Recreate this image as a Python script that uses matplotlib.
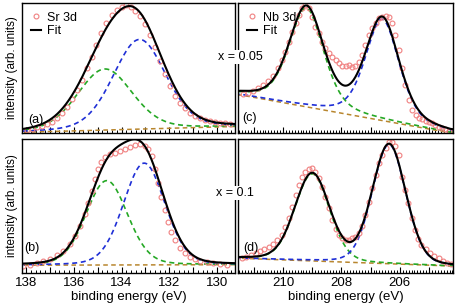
import numpy as np
import matplotlib.pyplot as plt
from matplotlib.ticker import MultipleLocator, FuncFormatter

plt.rcParams['font.family'] = ['Liberation Sans', 'DejaVu Sans']
plt.rcParams['font.size'] = 9

# ---- Sr 3d, x = 0.05 (panel a) ----
a_be = [137.97, 137.77, 137.56, 137.35, 137.14, 136.93, 136.72, 136.51, 136.30, 136.09,
        135.88, 135.67, 135.46, 135.25, 135.05, 134.84, 134.63, 134.42, 134.21, 134.00,
        133.82, 133.62, 133.43, 133.23, 133.02, 132.81, 132.60, 132.40, 132.19, 131.98,
        131.77, 131.56, 131.35, 131.14, 130.93, 130.72, 130.51, 130.30, 130.09, 129.88,
        129.68, 129.47]
a_int = [0.023, 0.033, 0.044, 0.054, 0.069, 0.087, 0.113, 0.151, 0.203, 0.264,
         0.331, 0.408, 0.497, 0.587, 0.677, 0.767, 0.844, 0.908, 0.946, 0.972,
         0.985, 0.972, 0.941, 0.900, 0.838, 0.754, 0.659, 0.556, 0.454, 0.362,
         0.287, 0.233, 0.190, 0.156, 0.131, 0.113, 0.100, 0.090, 0.085, 0.080,
         0.074, 0.069]

# ---- Sr 3d, x = 0.1 (panel b) ----
b_be = [138.11, 137.83, 137.56, 137.28, 137.00, 136.72, 136.44, 136.16, 135.95, 135.74,
        135.53, 135.39, 135.25, 135.11, 134.98, 134.84, 134.70, 134.49, 134.28, 134.07,
        133.86, 133.65, 133.44, 133.23, 133.02, 132.88, 132.74, 132.60, 132.47, 132.33,
        132.19, 132.05, 131.91, 131.77, 131.56, 131.35, 131.14, 130.93, 130.72, 130.44,
        130.16, 129.88, 129.60]
b_int = [0.052, 0.062, 0.075, 0.090, 0.107, 0.132, 0.167, 0.217, 0.276, 0.351,
         0.440, 0.525, 0.615, 0.699, 0.774, 0.828, 0.863, 0.888, 0.898, 0.908,
         0.923, 0.938, 0.953, 0.960, 0.948, 0.923, 0.873, 0.774, 0.669, 0.570,
         0.470, 0.383, 0.309, 0.246, 0.184, 0.147, 0.122, 0.105, 0.092, 0.080,
         0.072, 0.065, 0.060]

# ---- Nb 3d, x = 0.05 (panel c) ----
c_be = [211.37, 211.20, 211.02, 210.85, 210.68, 210.51, 210.34, 210.17, 210.03, 209.92,
        209.80, 209.69, 209.57, 209.46, 209.35, 209.23, 209.12, 209.00, 208.89, 208.77,
        208.66, 208.55, 208.43, 208.32, 208.20, 208.09, 207.98, 207.86, 207.75, 207.63,
        207.52, 207.41, 207.29, 207.18, 207.06, 206.95, 206.83, 206.72, 206.61, 206.49,
        206.38, 206.26, 206.15, 206.04, 205.92, 205.81, 205.69, 205.58, 205.46, 205.35,
        205.24, 205.12, 205.01, 204.89, 204.78, 204.67, 204.55, 204.44, 204.32]
c_int = [0.297, 0.310, 0.326, 0.344, 0.369, 0.400, 0.439, 0.497, 0.562, 0.626,
         0.703, 0.779, 0.844, 0.908, 0.959, 0.985, 0.959, 0.895, 0.818, 0.767,
         0.703, 0.651, 0.613, 0.582, 0.562, 0.536, 0.518, 0.515, 0.523, 0.510,
         0.515, 0.549, 0.600, 0.677, 0.754, 0.805, 0.849, 0.882, 0.895, 0.903,
         0.895, 0.844, 0.754, 0.638, 0.500, 0.370, 0.250, 0.180, 0.140, 0.118,
         0.105, 0.095, 0.087, 0.080, 0.062, 0.044, 0.036, 0.028, 0.015]

# ---- Nb 3d, x = 0.1 (panel d) ----
d_be = [211.40, 211.25, 211.10, 210.94, 210.80, 210.65, 210.49, 210.34, 210.19, 210.05,
        209.92, 209.80, 209.69, 209.57, 209.46, 209.35, 209.23, 209.12, 209.00, 208.89,
        208.77, 208.66, 208.55, 208.43, 208.32, 208.20, 208.09, 207.98, 207.86, 207.75,
        207.63, 207.52, 207.41, 207.29, 207.18, 207.06, 206.95, 206.83, 206.72, 206.61,
        206.49, 206.38, 206.26, 206.15, 206.04, 205.94, 205.83, 205.72, 205.60, 205.49,
        205.37, 205.26, 205.12, 204.97, 204.83, 204.67, 204.52, 204.37, 204.25]
d_int = [0.110, 0.122, 0.137, 0.152, 0.167, 0.179, 0.194, 0.214, 0.246, 0.284,
         0.341, 0.408, 0.495, 0.582, 0.657, 0.714, 0.751, 0.774, 0.781, 0.756,
         0.707, 0.644, 0.570, 0.483, 0.396, 0.326, 0.284, 0.259, 0.246, 0.246,
         0.259, 0.271, 0.296, 0.351, 0.433, 0.532, 0.632, 0.731, 0.818, 0.881,
         0.930, 0.975, 0.980, 0.950, 0.880, 0.719, 0.620, 0.520, 0.408, 0.321,
         0.251, 0.209, 0.177, 0.152, 0.129, 0.110, 0.092, 0.077, 0.067]

# fitted components: centre, height, fwhm, lorentz fraction
a_green = [134.70, 0.47, 2.70, 0.2]
a_blue = [133.25, 0.69, 2.60, 0.2]
a_bg = [138.2, 0.005, 129.25, 0.05]
b_green = [134.62, 0.63, 2.05, 0.15]
b_blue = [133.05, 0.76, 2.05, 0.15]
b_bg = [138.2, 0.058, 129.25, 0.062]
c_green = [209.20, 0.76, 1.40, 0.4]
c_blue = [206.60, 0.78, 1.37, 0.4]
c_bg = [211.43, 0.292, 204.25, 0.0]
d_green = [209.00, 0.65, 1.40, 0.15]
d_blue = [206.37, 0.89, 1.35, 0.15]
d_bg = [211.42, 0.110, 204.23, 0.052]

sr_lim = (138.17, 129.25)
nb_lim = (211.54, 204.18)

red = '#f08080'
green = '#25a825'
blue = '#1f2fd6'
brown = '#b8862e'


def pvoigt(e, p):
    c, h, w, eta = p
    x = (e - c) / w
    g = np.exp(-4 * np.log(2) * x ** 2)
    lo = 1 / (1 + 4 * x ** 2)
    return h * ((1 - eta) * g + eta * lo)


def background(e, p):
    e0, v0, e1, v1 = p
    return np.interp(e, [e1, e0], [v1, v0])


def draw_panel(ax, be, inten, comp_g, comp_b, bg, lim, lab, lab_pos, name=None):
    e = np.linspace(lim[1], lim[0], 500)
    base = background(e, bg)
    g = pvoigt(e, comp_g)
    b = pvoigt(e, comp_b)
    ax.plot(e, base, color=brown, lw=1.1, dashes=(3, 2.2))
    ax.plot(e, g + base, color=green, lw=1.2, dashes=(3, 2.2))
    ax.plot(e, b + base, color=blue, lw=1.2, dashes=(3, 2.2))
    ax.plot(be, inten, 'o', mfc='none', mec=red, ms=3.5, mew=0.8, label=name)
    ax.plot(e, g + b + base, color='black', lw=1.5, label='Fit' if name else None)
    ax.set_xlim(lim)
    ax.set_ylim(0, 1)
    ax.set_yticks([])
    ax.text(lab_pos[0], lab_pos[1], lab, transform=ax.transAxes, ha='center', va='center')
    if name:
        ax.legend(loc='upper left', frameon=False, handlelength=0.8, handletextpad=0.5,
                  borderaxespad=0.3, labelspacing=0.1, fontsize=9)


def even_label(v, pos):
    if abs(v - round(v)) < 1e-6 and int(round(v)) % 2 == 0:
        return '%d' % round(v)
    return ''


fig = plt.figure(figsize=(4.57, 3.05), dpi=100)
ax_a = fig.add_axes([0.0481, 0.564, 0.466, 0.426])
ax_b = fig.add_axes([0.0481, 0.105, 0.466, 0.439])
ax_c = fig.add_axes([0.5208, 0.564, 0.4705, 0.426])
ax_d = fig.add_axes([0.5208, 0.105, 0.4705, 0.439])

draw_panel(ax_a, a_be, a_int, a_green, a_blue, a_bg, sr_lim, '(a)', (0.063, 0.10), 'Sr 3d')
draw_panel(ax_b, b_be, b_int, b_green, b_blue, b_bg, sr_lim, '(b)', (0.047, 0.19))
draw_panel(ax_c, c_be, c_int, c_green, c_blue, c_bg, nb_lim, '(c)', (0.052, 0.115), 'Nb 3d')
draw_panel(ax_d, d_be, d_int, d_green, d_blue, d_bg, nb_lim, '(d)', (0.058, 0.19))

for ax, minor in [(ax_a, 0.2), (ax_b, 0.2), (ax_c, 0.1), (ax_d, 0.1)]:
    ax.xaxis.set_major_locator(MultipleLocator(1))
    ax.xaxis.set_minor_locator(MultipleLocator(minor))
    ax.xaxis.set_major_formatter(FuncFormatter(even_label))
    ax.tick_params(axis='x', which='major', direction='in', length=4, width=0.8, pad=3,
                   labelsize=9.5)
    ax.tick_params(axis='x', which='minor', direction='in', length=2, width=0.7)
    for s in ax.spines.values():
        s.set_linewidth(1.0)

for ax in (ax_a, ax_c):
    ax.tick_params(axis='x', labelbottom=False)

for ax in (ax_a, ax_b):
    ax.set_ylabel('intensity (arb. units)', fontsize=8.5, labelpad=3)

for ax in (ax_b, ax_d):
    ax.set_xlabel('binding energy (eV)', fontsize=9.5, labelpad=1)

fig.text(0.527, 0.813, 'x = 0.05', ha='center', va='center',
         bbox=dict(facecolor='white', edgecolor='none', pad=1.0), zorder=10)
fig.text(0.515, 0.367, 'x = 0.1', ha='center', va='center',
         bbox=dict(facecolor='white', edgecolor='none', pad=1.0), zorder=10)

fig.savefig('out.png', dpi=100)
